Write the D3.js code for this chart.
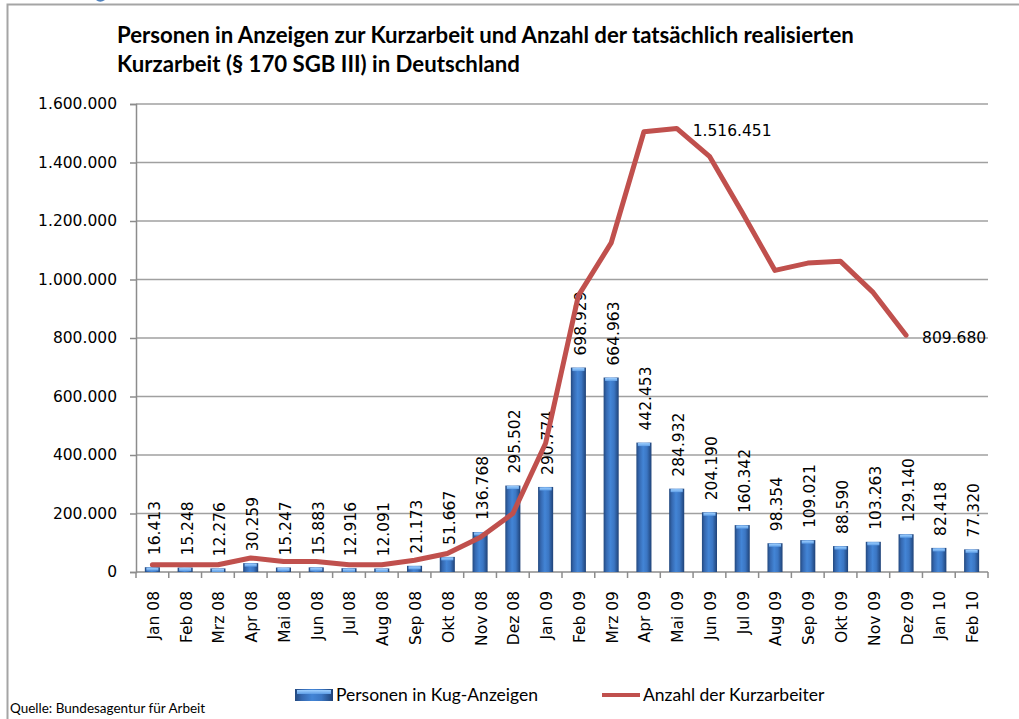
<!DOCTYPE html>
<html>
<head>
<meta charset="utf-8">
<script src="https://cdn.jsdelivr.net/npm/d3@7"></script>
<style>
  html, body { margin: 0; padding: 0; background: #fff; }
  svg { display: block; }
</style>
</head>
<body>
<svg id="chart" width="1019" height="719"></svg>
<script>
// Data

const months = ["Jan 08","Feb 08","Mrz 08","Apr 08","Mai 08","Jun 08","Jul 08","Aug 08","Sep 08","Okt 08","Nov 08","Dez 08",
                "Jan 09","Feb 09","Mrz 09","Apr 09","Mai 09","Jun 09","Jul 09","Aug 09","Sep 09","Okt 09","Nov 09","Dez 09",
                "Jan 10","Feb 10"];

// Personen in Kug-Anzeigen (bars)
const anzeigen = [16413,15248,12276,30259,15247,15883,12916,12091,21173,51667,136768,295502,
                  290774,698929,664963,442453,284932,204190,160342,98354,109021,88590,103263,129140,
                  82418,77320];

// Anzahl der Kurzarbeiter (line, Jan 08 - Dez 09)
const kurzarbeiter = [25000,25000,25000,48000,36000,36000,25000,25000,40000,63000,118000,200000,
                      440000,945000,1125000,1505000,1516451,1421000,1229000,1031000,1056000,1062000,955000,809680];

// only these two points of the line carry a label
const lineLabelled = ["Mai 09","Dez 09"];

const yTicks = [0,200000,400000,600000,800000,1000000,1200000,1400000,1600000];

const titleLines = ["Personen in Anzeigen zur Kurzarbeit und Anzahl der tatsächlich realisierten",
                    "Kurzarbeit (§ 170 SGB III) in Deutschland"];

// German number format 1.600.000
const de = d3.formatLocale({decimal: ",", thousands: ".", grouping: [3], currency: ["", " €"]});
const fmt = de.format(",d");

const svg = d3.select("#chart");
const plotLeft = 136, plotRight = 988, plotTop = 104, plotBottom = 572;
const numFont = "'DejaVu Sans', Verdana, sans-serif";
const txtFont = "Lato, 'Open Sans', sans-serif";

// frame (top + left edge)
svg.append("path")
    .attr("d", "M7.5,719 L7.5,4.5 L1019,4.5")
    .attr("fill", "none")
    .attr("stroke", "#a5a5a5")
    .attr("stroke-width", 2);

// bottom of a blue mark cut off by the top edge
svg.append("path")
    .attr("d", "M96,0 Q100,3.5 105,0 Z")
    .attr("fill", "#4f81bd");

// Title
svg.append("g").selectAll("text")
    .data(titleLines)
    .enter().append("text")
    .attr("x", 117)
    .attr("y", function(d, i) { return 43 + i * 29; })
    .style("font-family", txtFont)
    .style("font-size", "22.2px")
    .style("font-weight", "bold")
    .attr("fill", "#000")
    .text(function(d) { return d; });

// Scales
const xOuter = d3.scaleBand().domain(months).range([plotLeft, plotRight]).padding(0);
const x = d3.scaleBand().domain(months).range([plotLeft, plotRight]).paddingInner(0.54).paddingOuter(0.27);
const y = d3.scaleLinear().domain([0, 1600000]).range([plotBottom, plotTop]);

// Gridlines
svg.append("g").selectAll("line")
    .data(yTicks.slice(1))
    .enter().append("line")
    .attr("x1", plotLeft).attr("x2", plotRight)
    .attr("y1", function(d) { return y(d); })
    .attr("y2", function(d) { return y(d); })
    .attr("stroke", "#a0a0a0")
    .attr("stroke-width", 1.5);

// Y axis
const yAxis = svg.append("g")
    .attr("transform", "translate(" + plotLeft + ",0)")
    .call(d3.axisLeft(y).tickValues(yTicks).tickFormat(fmt).tickSize(6).tickPadding(13));
yAxis.select(".domain").attr("stroke", "#8c8c8c").attr("stroke-width", 1.5);
yAxis.selectAll(".tick line").attr("stroke", "#8c8c8c").attr("stroke-width", 1.5);
yAxis.selectAll(".tick text")
    .style("font-family", numFont).style("font-size", "15.5px").attr("fill", "#000");

// X axis: ticks sit between categories
const xAxisG = svg.append("g");
xAxisG.append("line")
    .attr("x1", plotLeft).attr("x2", plotRight)
    .attr("y1", plotBottom).attr("y2", plotBottom)
    .attr("stroke", "#8c8c8c").attr("stroke-width", 1.5);
const boundaries = months.map(function(m) { return xOuter(m); }).concat([plotRight]);
xAxisG.selectAll(".xt")
    .data(boundaries)
    .enter().append("line")
    .attr("class", "xt")
    .attr("x1", function(d) { return d; }).attr("x2", function(d) { return d; })
    .attr("y1", plotBottom).attr("y2", plotBottom + 6)
    .attr("stroke", "#8c8c8c").attr("stroke-width", 1.5);
xAxisG.selectAll(".xl")
    .data(months)
    .enter().append("text")
    .attr("class", "xl")
    .attr("transform", function(d) {
        return "translate(" + (x(d) + x.bandwidth() / 2 + 1) + "," + (plotBottom + 19) + ") rotate(-90)";
    })
    .attr("text-anchor", "end")
    .attr("dy", "0.35em")
    .style("font-family", numFont).style("font-size", "15.5px")
    .attr("fill", "#000")
    .text(function(d) { return d; });

// Bar gradients
const defs = svg.append("defs");
const grad = defs.append("linearGradient").attr("id", "barGrad")
    .attr("x1", "0%").attr("x2", "100%").attr("y1", "0%").attr("y2", "0%");
[["0%", "#23497f"], ["18%", "#3568b0"], ["45%", "#4385d6"], ["70%", "#3b76c3"], ["100%", "#1f4277"]]
    .forEach(function(s) { grad.append("stop").attr("offset", s[0]).attr("stop-color", s[1]); });
const capGrad = defs.append("linearGradient").attr("id", "capGrad")
    .attr("x1", "0%").attr("x2", "0%").attr("y1", "0%").attr("y2", "100%");
[["0%", "#9fd0ff"], ["100%", "#5f9ee6"]]
    .forEach(function(s) { capGrad.append("stop").attr("offset", s[0]).attr("stop-color", s[1]); });

const barData = months.map(function(m, i) { return {month: m, value: anzeigen[i]}; });

const bars = svg.append("g");
bars.selectAll("rect.bar")
    .data(barData)
    .enter().append("rect")
    .attr("class", "bar")
    .attr("x", function(d) { return x(d.month); })
    .attr("y", function(d) { return y(d.value); })
    .attr("width", x.bandwidth())
    .attr("height", function(d) { return plotBottom - y(d.value); })
    .attr("fill", "url(#barGrad)");
bars.selectAll("rect.cap")
    .data(barData)
    .enter().append("rect")
    .attr("class", "cap")
    .attr("x", function(d) { return x(d.month) + 1.5; })
    .attr("y", function(d) { return y(d.value) + 0.5; })
    .attr("width", x.bandwidth() - 3)
    .attr("height", function(d) { return Math.min(3, plotBottom - y(d.value) - 0.5); })
    .attr("fill", "url(#capGrad)");

// Bar value labels
svg.append("g").selectAll("text")
    .data(barData)
    .enter().append("text")
    .attr("transform", function(d) {
        return "translate(" + (x(d.month) + x.bandwidth() / 2 + 2) + "," + (y(d.value) - 12) + ") rotate(-90)";
    })
    .attr("dy", "0.35em")
    .style("font-family", numFont).style("font-size", "15.5px")
    .attr("fill", "#000")
    .text(function(d) { return fmt(d.value); });

// Line
const lineData = kurzarbeiter.map(function(v, i) { return {month: months[i], value: v}; });
const line = d3.line()
    .x(function(d) { return x(d.month) + x.bandwidth() / 2; })
    .y(function(d) { return y(d.value); });
svg.append("path")
    .datum(lineData)
    .attr("d", line)
    .attr("fill", "none")
    .attr("stroke", "#c0504d")
    .attr("stroke-width", 5)
    .attr("stroke-linejoin", "round")
    .attr("stroke-linecap", "round");

svg.append("g").selectAll("text")
    .data(lineData.filter(function(d) { return lineLabelled.indexOf(d.month) >= 0; }))
    .enter().append("text")
    .attr("x", function(d) { return x(d.month) + x.bandwidth() / 2 + 16; })
    .attr("y", function(d) { return y(d.value) + 2; })
    .attr("dy", "0.35em")
    .style("font-family", numFont).style("font-size", "15.5px")
    .attr("fill", "#000")
    .text(function(d) { return fmt(d.value); });

// Legend
const legend = svg.append("g").attr("transform", "translate(0,695)");
legend.append("rect")
    .attr("x", 295).attr("y", -6).attr("width", 38).attr("height", 12)
    .attr("fill", "url(#barGrad)");
legend.append("rect")
    .attr("x", 297).attr("y", -5).attr("width", 34).attr("height", 4)
    .attr("fill", "url(#capGrad)");
legend.append("text")
    .attr("x", 336).attr("dy", "0.35em")
    .style("font-family", txtFont).style("font-size", "17.5px")
    .attr("fill", "#000")
    .text("Personen in Kug-Anzeigen");
legend.append("line")
    .attr("x1", 602).attr("x2", 640).attr("y1", 0).attr("y2", 0)
    .attr("stroke", "#c0504d").attr("stroke-width", 4);
legend.append("text")
    .attr("x", 643).attr("dy", "0.35em")
    .style("font-family", txtFont).style("font-size", "17.5px")
    .attr("fill", "#000")
    .text("Anzahl der Kurzarbeiter");

// Source
svg.append("text")
    .attr("x", 10).attr("y", 713)
    .style("font-family", txtFont).style("font-size", "13.5px")
    .attr("fill", "#000")
    .text("Quelle: Bundesagentur für Arbeit");
</script>
</body>
</html>
